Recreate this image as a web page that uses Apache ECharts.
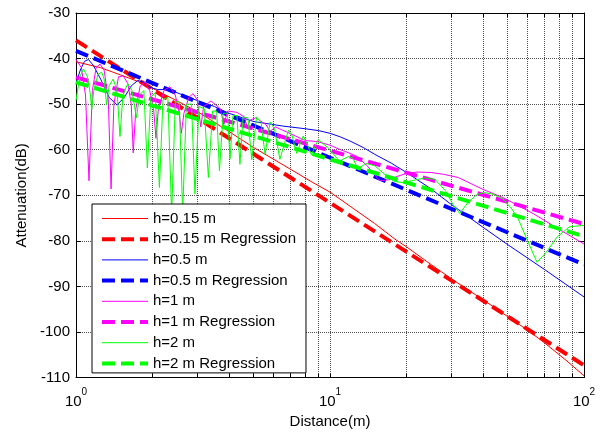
<!DOCTYPE html>
<html><head><meta charset="utf-8">
<script src="https://cdn.jsdelivr.net/npm/echarts@6/dist/echarts.min.js"></script>
<style>html,body{margin:0;padding:0;background:#fff}#c{width:602px;height:434px}</style>
</head><body><div id="c"></div>
<script>
// ---- data (distance in m, attenuation in dB) ----
const seriesNames = ['h=0.15 m','h=0.15 m Regression','h=0.5 m','h=0.5 m Regression','h=1 m','h=1 m Regression','h=2 m','h=2 m Regression'];
const seriesColors = ['#ff0000','#ff0000','#0000ff','#0000ff','#ff00ff','#ff00ff','#00ff00','#00ff00'];

const h015 = [[1,-40.7],[1.25,-42],[1.5,-43.6],[1.75,-45],[2,-46.5],[2.5,-49.3],[3,-51.6],[4,-56],[5,-59.5],[6,-62.1],[7,-64.3],[8.5,-67.1],[10,-69.3],[12,-72.4],[15,-76.2],[18,-79.6],[20,-81.3],[25,-85.2],[30,-88.3],[40,-92.9],[50,-96.6],[60,-99.6],[70,-102.4],[85,-106.2],[100,-109.6]];
const h015Reg = [[1,-36],[100,-107.3]];

const h05 = [[1,-45.5],[1.04,-42.5],[1.08,-40.6],[1.12,-40.2],[1.17,-41.5],[1.25,-44.5],[1.35,-48.5],[1.45,-50.2],[1.55,-48.5],[1.65,-46],[1.75,-44.8],[1.85,-45.2],[1.95,-46.3],[2.1,-46.8],[2.3,-46.8],[2.5,-47.5],[3,-49.2],[3.5,-50.5],[4,-52],[5,-53.8],[6.5,-54.8],[8,-55.4],[9,-55.8],[10,-56.4],[11,-57.2],[12,-58.1],[13.5,-59.5],[15,-61],[17.5,-63],[20,-65],[25,-68.6],[30,-72],[40,-77],[50,-80.8],[70,-86.3],[100,-92.3]];
const h05Reg = [[1,-38.3],[100,-85.2]];

const h1 = [[1,-40.2],[1.05,-42],[1.09,-48],[1.125,-66.8],[1.16,-47],[1.2,-42],[1.243,-41.2],[1.29,-42.5],[1.34,-49],[1.374,-68.6],[1.41,-50],[1.47,-44],[1.535,-43.8],[1.6,-45.5],[1.65,-50],[1.68,-60.7],[1.72,-51],[1.79,-46],[1.87,-45.1],[1.95,-47],[2.02,-51],[2.065,-57.5],[2.11,-51],[2.22,-47],[2.34,-46.2],[2.46,-48],[2.55,-52],[2.6,-56.4],[2.66,-52],[2.78,-48.5],[2.89,-47.7],[3.0,-49],[3.1,-55],[3.18,-50.5],[3.4,-49.3],[3.7,-51],[3.82,-54.5],[3.95,-51.5],[4.3,-51.8],[4.6,-52.8],[4.72,-55],[4.85,-53.5],[5.1,-53],[5.6,-54.5],[5.8,-56],[6.1,-55],[7,-56.5],[8,-58],[8.9,-58.2],[10,-59],[11,-60],[12,-60.8],[12.7,-61.4],[14,-63.5],[15.7,-66.8],[17,-66.6],[18.5,-65.8],[20,-65.2],[22,-64.9],[25,-65],[28,-65.4],[32,-66.1],[40,-68.7],[48,-70.5],[63,-74],[80,-77.5],[100,-80.7]];
const h1Reg = [[1,-44.1],[100,-76.3]];

const h2 = [[1,-49.2],[1.035,-44],[1.07,-42.3],[1.11,-44],[1.14,-48],[1.153,-51.3],[1.175,-47],[1.22,-43.5],[1.262,-43],[1.29,-44.5],[1.32,-50.2],[1.35,-46],[1.4,-44.5],[1.45,-47],[1.49,-57.1],[1.53,-48],[1.6,-45.5],[1.66,-47],[1.73,-53],[1.78,-48],[1.85,-47],[1.91,-64],[1.97,-48.5],[2.05,-47.5],[2.13,-68.3],[2.2,-49],[2.3,-48.5],[2.38,-74],[2.46,-49.5],[2.55,-49.5],[2.63,-74],[2.72,-50],[2.85,-50],[2.94,-69.7],[3.05,-50.5],[3.2,-51],[3.32,-66.1],[3.45,-51.5],[3.58,-51.5],[3.67,-64.6],[3.8,-52],[3.95,-52],[4.04,-62],[4.15,-52.5],[4.3,-52.5],[4.42,-63.2],[4.55,-52.8],[4.75,-53],[4.92,-62.2],[5.14,-52.8],[5.35,-54],[5.55,-61],[5.81,-53.9],[6.05,-55.5],[6.35,-62.1],[6.86,-55.7],[7.1,-57],[7.39,-60.8],[7.84,-57],[8.1,-58.5],[8.45,-61.1],[8.98,-57.8],[9.8,-59.5],[10.9,-62.5],[11.8,-61.5],[12.3,-61.8],[12.9,-64.3],[13.8,-63],[15,-63.5],[16.5,-65.5],[18,-67],[19.4,-67.2],[21,-66.8],[23.5,-66.2],[25.9,-66.5],[28.5,-69],[30.5,-72],[32.4,-74],[35,-71.5],[38,-69.8],[40.6,-69.4],[44,-69.8],[48,-70.8],[52,-73],[55,-75.1],[60,-80],[65.3,-84.7],[71,-82.5],[78.5,-79.1],[87.8,-76.9],[100,-76.6]];
const h2Reg = [[1,-45.2],[100,-79]];

const seriesData = [h015,h015Reg,h05,h05Reg,h1,h1Reg,h2,h2Reg];

const xTickValues = [1,2,3,4,5,6,7,8,9,10,20,30,40,50,60,70,80,90,100];
const xLabelValues = [1,10,100];
const yMin = -110, yMax = -30, yStep = 10;

// ---- chart ----
const FONT = "'Liberation Sans', Arial, sans-serif";
const chart = echarts.init(document.getElementById('c'), null, {renderer:'canvas'});
const gridLine = {show:true, lineStyle:{color:'#505050', width:1, type:[1,1]}};
const xCommon = {type:'log', logBase:10, min:1, max:100, gridIndex:0};
const isReg = (n)=>n.indexOf('Regression')>=0;
const series = seriesNames.map((n,i)=>{
  const reg = isReg(n);
  return {
    name:n, type:'line', data:seriesData[i], xAxisIndex:0, yAxisIndex:0,
    symbol:'none', smooth:false, clip:true, z:2+i,
    lineStyle:{color:seriesColors[i], width:reg?4:1, type:reg?[13,6]:'solid'},
    itemStyle:{color:seriesColors[i]},
    emphasis:{disabled:true}
  };
});
chart.setOption({
  animation:false,
  backgroundColor:'#fff',
  textStyle:{fontFamily:FONT},
  grid:{left:76, top:13, width:508, height:370, containLabel:false},
  xAxis:[
    Object.assign({}, xCommon, {
      position:'bottom',
      axisLine:{show:true, onZero:false, lineStyle:{color:'#000', width:1}},
      axisTick:{show:true, inside:true, length:4, customValues:xTickValues, lineStyle:{color:'#000'}},
      axisLabel:{show:true, customValues:xLabelValues, margin:10, color:'#000',
        formatter:(v)=>'{b|10}{s|'+Math.round(Math.log10(v))+'}',
        rich:{b:{fontSize:15, lineHeight:28, fontFamily:FONT, color:'#000'},
              s:{fontSize:10, lineHeight:10, verticalAlign:'top', fontFamily:FONT, color:'#000'}}},
      splitLine:gridLine,
      name:'Distance(m)', nameLocation:'middle', nameGap:30,
      nameTextStyle:{fontSize:15, color:'#000', fontFamily:FONT}
    }),
    Object.assign({}, xCommon, {
      position:'top',
      axisLine:{show:true, onZero:false, lineStyle:{color:'#000', width:1}},
      axisTick:{show:true, inside:true, length:4, customValues:xTickValues, lineStyle:{color:'#000'}},
      axisLabel:{show:false}, splitLine:{show:false}
    })
  ],
  yAxis:[
    {type:'value', min:yMin, max:yMax, interval:yStep, position:'left',
     axisLine:{show:true, onZero:false, lineStyle:{color:'#000', width:1}},
     axisTick:{show:true, inside:true, length:5, lineStyle:{color:'#000'}},
     axisLabel:{show:true, margin:6, fontSize:15, color:'#000', fontFamily:FONT},
     splitLine:gridLine,
     name:'Attenuation(dB)', nameLocation:'middle', nameGap:46, nameRotate:90,
     nameTextStyle:{fontSize:15, color:'#000', fontFamily:FONT}},
    {type:'value', min:yMin, max:yMax, interval:yStep, position:'right',
     axisLine:{show:true, onZero:false, lineStyle:{color:'#000', width:1}},
     axisTick:{show:true, inside:true, length:5, lineStyle:{color:'#000'}},
     axisLabel:{show:false}, splitLine:{show:false}}
  ],
  legend:{
    show:true, orient:'vertical', left:92, top:204,
    data:seriesNames.map(n=>({name:n, lineStyle:{width:isReg(n)?4:1}})),
    itemWidth:46, itemHeight:14, itemGap:5.7,
    padding:[7,10,2,8],
    itemStyle:{opacity:0},
    backgroundColor:'#fff', borderColor:'#000', borderWidth:1, borderRadius:0,
    textStyle:{fontSize:15, color:'#000', fontFamily:FONT},
    selectedMode:false, z:10
  },
  series:series
});
</script></body></html>
